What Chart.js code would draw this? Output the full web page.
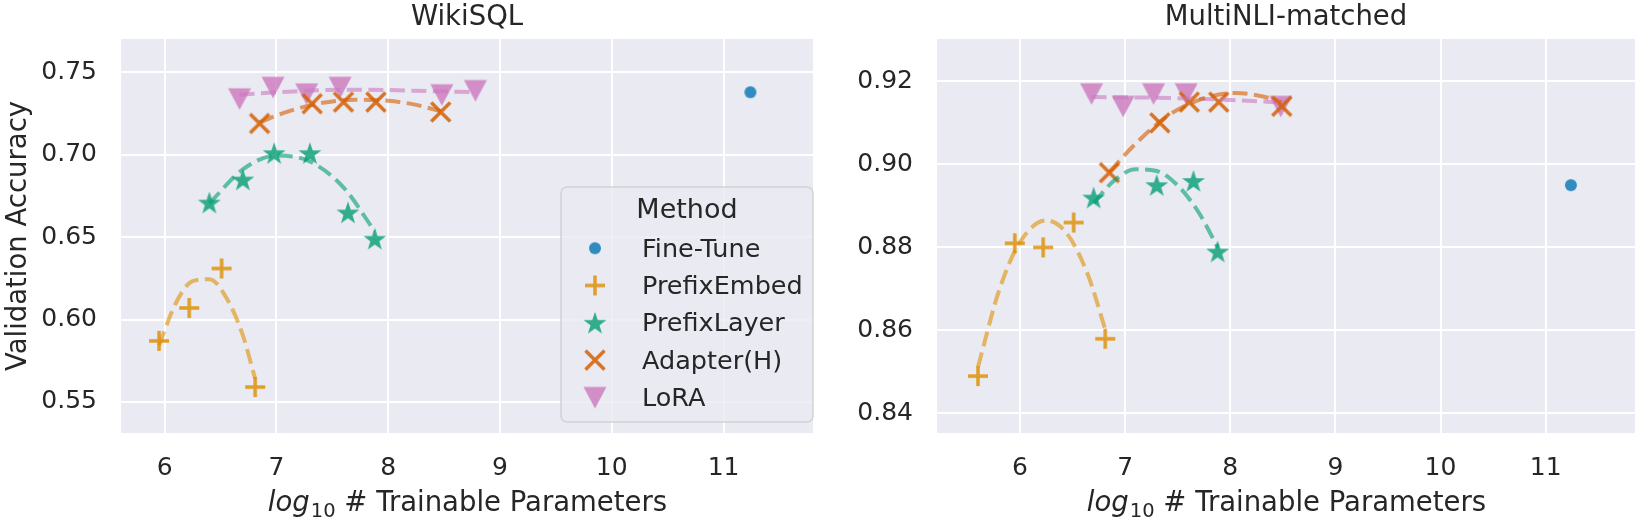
<!DOCTYPE html>
<html>
<head>
<meta charset="utf-8">
<script src="https://cdn.jsdelivr.net/npm/chart.js@4/dist/chart.umd.min.js"></script>
<style>
  html, body { margin: 0; padding: 0; background: #fff; }
  #wiki { position: absolute; left: 0; top: 0; }
  #mnli { position: absolute; left: 826px; top: 0; }
</style>
</head>
<body>
<canvas id="wiki" width="826" height="522"></canvas>
<canvas id="mnli" width="822" height="522"></canvas>
<script>
const methods = ['Fine-Tune', 'PrefixEmbed', 'PrefixLayer', 'Adapter(H)', 'LoRA']
const xTicks = [6, 7, 8, 9, 10, 11]

// WikiSQL
const wikiYTicks = [0.55, 0.6, 0.65, 0.7, 0.75]
const wikiFineX = [11.24]
const wikiFineY = [0.738]
const wikiEmbedX = [5.95, 6.22, 6.51, 6.81]
const wikiEmbedY = [0.587, 0.607, 0.631, 0.559]
const wikiLayerX = [6.40, 6.70, 6.98, 7.30, 7.64, 7.88]
const wikiLayerY = [0.671, 0.685, 0.701, 0.701, 0.665, 0.649]
const wikiAdapterX = [6.85, 7.32, 7.60, 7.89, 8.47]
const wikiAdapterY = [0.719, 0.731, 0.732, 0.732, 0.726]
const wikiLoraX = [6.67, 6.97, 7.27, 7.57, 8.48, 8.78]
const wikiLoraY = [0.734, 0.741, 0.737, 0.741, 0.7365, 0.739]
// dashed trend curves
const wikiEmbedFitX = [5.95, 6.10, 6.25, 6.40, 6.55, 6.70, 6.81]
const wikiEmbedFitY = [0.5843, 0.6099, 0.6233, 0.6245, 0.6135, 0.5904, 0.5640]
const wikiLayerFitX = [6.40, 6.70, 7.00, 7.30, 7.60, 7.88]
const wikiLayerFitY = [0.6705, 0.6911, 0.6996, 0.6959, 0.6802, 0.6535]
const wikiAdapterFitX = [6.85, 7.10, 7.40, 7.70, 8.00, 8.25, 8.47]
const wikiAdapterFitY = [0.7198, 0.7262, 0.7314, 0.7334, 0.7328, 0.7303, 0.7263]
const wikiLoraFitX = [6.67, 7.15, 7.58, 8.00, 8.40, 8.78]
const wikiLoraFitY = [0.7365, 0.7385, 0.7395, 0.7393, 0.7386, 0.7381]

// MultiNLI-matched
const mnliYTicks = [0.84, 0.86, 0.88, 0.9, 0.92]
const mnliFineX = [11.24]
const mnliFineY = [0.895]
const mnliEmbedX = [5.60, 5.95, 6.22, 6.51, 6.81]
const mnliEmbedY = [0.849, 0.881, 0.880, 0.886, 0.858]
const mnliLayerX = [6.70, 7.30, 7.65, 7.88]
const mnliLayerY = [0.892, 0.895, 0.896, 0.879]
const mnliAdapterX = [6.85, 7.33, 7.61, 7.89, 8.49]
const mnliAdapterY = [0.898, 0.910, 0.915, 0.915, 0.914]
const mnliLoraX = [6.68, 6.98, 7.27, 7.58, 8.48]
const mnliLoraY = [0.917, 0.914, 0.917, 0.917, 0.914]
const mnliEmbedFitX = [5.60, 5.80, 6.00, 6.25, 6.45, 6.65, 6.81]
const mnliEmbedFitY = [0.8512, 0.8696, 0.8813, 0.8865, 0.8832, 0.8731, 0.8603]
const mnliLayerFitX = [6.70, 6.90, 7.10, 7.30, 7.50, 7.70, 7.88]
const mnliLayerFitY = [0.8907, 0.8962, 0.8988, 0.8984, 0.8949, 0.8884, 0.8800]
const mnliAdapterFitX = [6.85, 7.10, 7.40, 7.70, 8.05, 8.30, 8.49]
const mnliAdapterFitY = [0.8982, 0.9050, 0.9116, 0.9155, 0.9172, 0.9164, 0.9150]
const mnliLoraFitX = [6.68, 7.20, 7.70, 8.10, 8.48]
const mnliLoraFitY = [0.9162, 0.9161, 0.9158, 0.9154, 0.9149]

const FONT = '"DejaVu Sans", sans-serif'
const INK = '#262626'
const rgb = {
  blue: '1,115,178',
  orange: '222,143,5',
  green: '2,158,115',
  red: '213,94,0',
  pink: '204,120,188',
}

function markerCanvas(kind, color) {
  const c = document.createElement('canvas')
  c.width = 30
  c.height = 30
  const g = c.getContext('2d')
  g.translate(15, 15)
  g.fillStyle = color
  g.strokeStyle = color
  g.lineWidth = 3.5
  g.beginPath()
  if (kind === 'circle') {
    g.arc(0, 0, 6, 0, Math.PI * 2)
    g.fill()
  } else if (kind === 'plus') {
    g.moveTo(-10, 0); g.lineTo(10, 0)
    g.moveTo(0, -10); g.lineTo(0, 10)
    g.stroke()
  } else if (kind === 'x') {
    g.moveTo(-9.5, -9.5); g.lineTo(9.5, 9.5)
    g.moveTo(9.5, -9.5); g.lineTo(-9.5, 9.5)
    g.stroke()
  } else if (kind === 'star') {
    for (let i = 0; i < 10; i++) {
      const r = i % 2 === 0 ? 12 : 4.7
      const a = -Math.PI / 2 + i * Math.PI / 5
      g.lineTo(Math.cos(a) * r, Math.sin(a) * r + 1)
    }
    g.closePath()
    g.fill()
  } else if (kind === 'tri') {
    g.moveTo(-11.5, -10.5); g.lineTo(11.5, -10.5); g.lineTo(0, 11)
    g.closePath()
    g.fill()
  }
  return c
}

const markers = [
  markerCanvas('circle', `rgba(${rgb.blue},0.8)`),
  markerCanvas('plus', `rgba(${rgb.orange},0.85)`),
  markerCanvas('star', `rgba(${rgb.green},0.8)`),
  markerCanvas('x', `rgba(${rgb.red},0.85)`),
  markerCanvas('tri', `rgba(${rgb.pink},0.8)`),
]
const lineColors = [rgb.blue, rgb.orange, rgb.green, rgb.red, rgb.pink]

const pts = (xs, ys) => xs.map((x, i) => ({ x, y: ys[i] }))

function pointSet(idx, xs, ys) {
  return {
    label: methods[idx],
    data: pts(xs, ys),
    pointStyle: markers[idx],
    pointRadius: 12,
    order: 2,
  }
}

function fitSet(idx, xs, ys) {
  return {
    label: methods[idx] + ' fit',
    data: pts(xs, ys),
    showLine: true,
    pointRadius: 0,
    borderColor: `rgba(${lineColors[idx]},0.6)`,
    borderWidth: 4,
    borderDash: [15, 6.5],
    cubicInterpolationMode: 'monotone',
    order: 1,
  }
}

const decor = {
  id: 'decor',
  beforeDraw(chart) {
    const { ctx, chartArea: a } = chart
    ctx.save()
    ctx.fillStyle = '#eaeaf2'
    ctx.fillRect(a.left, a.top, a.right - a.left, a.bottom - a.top)
    ctx.restore()
  },
  afterDraw(chart, args, opts) {
    const { ctx, chartArea: a } = chart
    const cx = (a.left + a.right) / 2
    ctx.save()
    ctx.fillStyle = INK
    ctx.textBaseline = 'alphabetic'

    // panel title
    ctx.font = `27.5px ${FONT}`
    ctx.textAlign = 'center'
    ctx.fillText(opts.title, cx, 25)

    // x label: log_10 # Trainable Parameters
    const big = `27.5px ${FONT}`
    const ital = `italic 27.5px ${FONT}`
    const sub = `19.5px ${FONT}`
    const rest = ' # Trainable Parameters'
    ctx.font = ital
    const w1 = ctx.measureText('log').width
    ctx.font = sub
    const w2 = ctx.measureText('10').width
    ctx.font = big
    const w3 = ctx.measureText(rest).width
    let x = cx - (w1 + w2 + w3) / 2
    ctx.textAlign = 'left'
    ctx.font = ital
    ctx.fillText('log', x, 511)
    x += w1 + 1
    ctx.font = sub
    ctx.fillText('10', x, 517)
    x += w2
    ctx.font = big
    ctx.fillText(rest, x, 511)

    if (opts.yLabel) {
      ctx.save()
      ctx.translate(26, (a.top + a.bottom) / 2)
      ctx.rotate(-Math.PI / 2)
      ctx.textAlign = 'center'
      ctx.font = big
      ctx.fillText(opts.yLabel, 0, 0)
      ctx.restore()
    }

    if (opts.legend) {
      const bx = 561, by = 187, bw = 252, bh = 235
      ctx.beginPath()
      ctx.roundRect(bx, by, bw, bh, 6)
      ctx.fillStyle = 'rgba(234,234,242,0.8)'
      ctx.fill()
      ctx.strokeStyle = 'rgba(204,204,204,0.8)'
      ctx.lineWidth = 1.5
      ctx.stroke()
      ctx.fillStyle = INK
      ctx.font = `27px ${FONT}`
      ctx.textAlign = 'center'
      ctx.fillText('Method', bx + bw / 2, 218)
      ctx.font = `25.5px ${FONT}`
      ctx.textAlign = 'left'
      methods.forEach((m, i) => {
        const base = 256.7 + i * 37.3
        const mk = markers[i]
        ctx.drawImage(mk, 595 - mk.width / 2, base - 8.5 - mk.height / 2)
        ctx.fillText(m, 642, base)
      })
    }
    ctx.restore()
  },
}

function makeChart(id, cfg) {
  const tickFont = { family: FONT, size: 25 }
  return new Chart(document.getElementById(id), {
    type: 'scatter',
    data: { datasets: cfg.datasets },
    options: {
      responsive: false,
      animation: false,
      events: [],
      layout: { padding: { top: 39, left: 0, right: 0, bottom: 0 } },
      plugins: {
        legend: { display: false },
        tooltip: { enabled: false },
        decor: { title: cfg.title, yLabel: cfg.yLabel, legend: cfg.legend },
      },
      scales: {
        x: {
          type: 'linear',
          min: cfg.xMin,
          max: cfg.xMax,
          border: { display: false },
          grid: { color: '#ffffff', lineWidth: 2, drawTicks: false },
          ticks: { font: tickFont, color: INK, padding: 20 },
          afterBuildTicks: (s) => { s.ticks = xTicks.map((v) => ({ value: v })) },
          afterFit: (s) => { s.height = 89 },
        },
        y: {
          type: 'linear',
          min: cfg.yMin,
          max: cfg.yMax,
          border: { display: false },
          grid: { color: '#ffffff', lineWidth: 2, drawTicks: false },
          ticks: { font: tickFont, color: INK, padding: 24, callback: (v) => Number(v).toFixed(2) },
          afterBuildTicks: (s) => { s.ticks = cfg.yTicks.map((v) => ({ value: v })) },
          afterFit: (s) => { s.width = cfg.yWidth },
        },
      },
    },
    plugins: [decor],
  })
}

makeChart('wiki', {
  title: 'WikiSQL',
  yLabel: 'Validation Accuracy',
  legend: true,
  xMin: 5.61, xMax: 11.8,
  yMin: 0.5311, yMax: 0.7703,
  yTicks: wikiYTicks,
  yWidth: 121,
  datasets: [
    fitSet(1, wikiEmbedFitX, wikiEmbedFitY),
    fitSet(2, wikiLayerFitX, wikiLayerFitY),
    fitSet(3, wikiAdapterFitX, wikiAdapterFitY),
    fitSet(4, wikiLoraFitX, wikiLoraFitY),
    pointSet(0, wikiFineX, wikiFineY),
    pointSet(1, wikiEmbedX, wikiEmbedY),
    pointSet(2, wikiLayerX, wikiLayerY),
    pointSet(3, wikiAdapterX, wikiAdapterY),
    pointSet(4, wikiLoraX, wikiLoraY),
  ],
})

makeChart('mnli', {
  title: 'MultiNLI-matched',
  legend: false,
  xMin: 5.21, xMax: 11.85,
  yMin: 0.8353, yMax: 0.9302,
  yTicks: mnliYTicks,
  yWidth: 111,
  datasets: [
    fitSet(1, mnliEmbedFitX, mnliEmbedFitY),
    fitSet(2, mnliLayerFitX, mnliLayerFitY),
    fitSet(3, mnliAdapterFitX, mnliAdapterFitY),
    fitSet(4, mnliLoraFitX, mnliLoraFitY),
    pointSet(0, mnliFineX, mnliFineY),
    pointSet(1, mnliEmbedX, mnliEmbedY),
    pointSet(2, mnliLayerX, mnliLayerY),
    pointSet(3, mnliAdapterX, mnliAdapterY),
    pointSet(4, mnliLoraX, mnliLoraY),
  ],
})
</script>
</body>
</html>
